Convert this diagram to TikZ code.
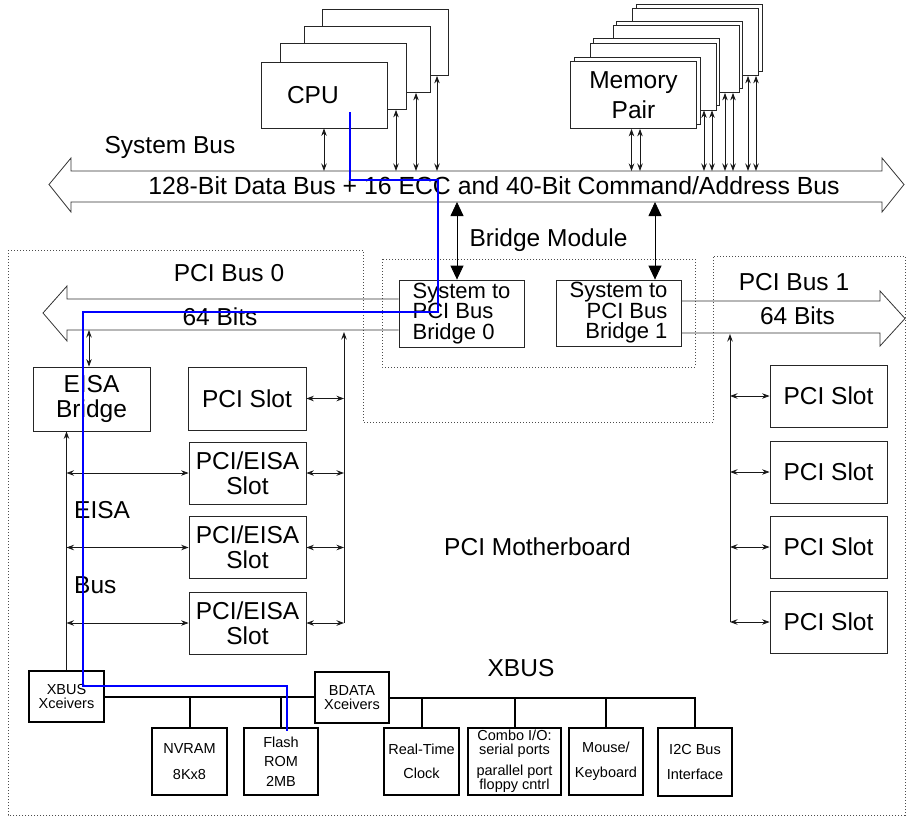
\documentclass[tikz,border=0pt]{standalone}
\usepackage{fontspec}
\setmainfont{Liberation Sans}
\usetikzlibrary{arrows.meta,calc}

\newcommand{\lblfont}{\fontsize{24.5}{25}\selectfont}
\newcommand{\brfont}{\fontsize{22}{20.5}\selectfont}
\newcommand{\xbfont}{\fontsize{14.5}{14}\selectfont}

\tikzset{
  box/.style={draw=black!85, fill=white, line width=0.8pt, inner sep=0pt, align=center, font=\lblfont},
  slotbox/.style={box, minimum width=117pt, minimum height=62pt},
  cpubox/.style={box, minimum width=126pt, minimum height=66pt},
  membox/.style={box, minimum width=126pt, minimum height=67pt},
  xbox/.style={draw, fill=white, line width=2pt, inner sep=0pt, align=center, minimum width=75pt, minimum height=67pt},
  dbl/.style={{Stealth[length=7.5pt,width=5.5pt,inset=2.5pt]}-{Stealth[length=7.5pt,width=5.5pt,inset=2.5pt]}, line width=0.8pt, black!90},
  uparr/.style={-{Stealth[length=7.5pt,width=5.5pt,inset=2.5pt]}, line width=0.8pt, black!90},
  bigarr/.style={{Triangle[length=14pt,width=13pt]}-{Triangle[length=14pt,width=13pt]}, line width=0.8pt},
  bus/.style={draw=black!80, line width=0.8pt},
  xbline/.style={line width=2pt},
  region/.style={draw=black!70, line width=0.7pt, dash pattern=on 1pt off 2pt},
  hilite/.style={draw=blue, line width=2pt},
  lbl/.style={font=\lblfont, inner sep=0pt}
}

\begin{document}
\begin{tikzpicture}[x=1pt,y=-1pt]
\useasboundingbox (0,0) rectangle (907,822);
% dotted outlines
\draw[region] (8,250) -- (363,250) -- (363,422) -- (713,422) -- (713,256) -- (905,256) -- (905,815) -- (8,815) -- cycle;
\draw[region] (382,259) rectangle (695,367);

% system bus
\coordinate (sbt) at (0,171);
\coordinate (sbb) at (0,202);
\draw[bus] (49,184.5) -- (71,158) -- (71,171) -- (882,171) -- (882,158) -- (904,184.5) -- (882,212) -- (882,202) -- (71,202) -- (71,212) -- cycle;
\node[font=\fontsize{24.8}{26}\selectfont, inner sep=0pt] (sbtxt) at (494,186) {128-Bit Data Bus + 16 ECC and 40-Bit Command/Address Bus};
\node[lbl] (sblbl) at (170,147) {System Bus};

% CPUs
\node[cpubox] (cpu4) at (385.5,42.5) {};
\node[cpubox] (cpu3) at (367,59.5) {};
\node[cpubox] (cpu2) at (343,76.5) {};
\node[cpubox, inner xsep=0pt, text width=74pt, align=left] (cpu) at (324,95) {CPU};
\draw[dbl] (cpu.south) -- (cpu.south |- sbt);
\foreach \b/\x in {cpu2/396, cpu3/416, cpu4/437}
  \draw[dbl] (\x,0 |- \b.south) -- (\x,0 |- sbt);

% memory pairs
\foreach \i/\x/\y in {4/695.5/42, 3/676/59, 2/653/76.5, 1/633.5/95} {
  \node[membox] (mb\i) at (\x+3.5,\y-4.5) {};
  \node[membox] (m\i) at (\x,\y) {};
}
\node[font=\fontsize{24.5}{30}\selectfont, align=center] (mtxt) at (m1) {Memory\\Pair};
\foreach \b/\x in {m1/631.5, m1/640, m2/704, m2/712, m3/725, m3/733, m4/748, m4/756}
  \draw[dbl] (\x,0 |- \b.south) -- (\x,0 |- sbt);

% bridge module
\node[lbl] (bmlbl) at (548.5,240) {Bridge Module};
\node[box, font=\brfont, minimum width=125pt, minimum height=67pt, align=left] (br0) at (461.5,313.5) {System to\\PCI Bus\\Bridge 0};
\node[box, font=\brfont, minimum width=125pt, minimum height=66pt, align=right] (br1) at (618.5,313) {System to\\PCI Bus\\Bridge 1};
\draw[bigarr] (457,0 |- sbb) -- (457,0 |- br0.north);
\draw[bigarr] (655,0 |- sbb) -- (655,0 |- br1.north);

% PCI bus 0
\coordinate (p0b) at (0,330);
\draw[bus] (br0.west |- 0,299) -- (67,299) -- (67,286) -- (43,313) -- (67,341) -- (67,330) -- (br0.west |- p0b);
\node[lbl] (p0lbl) at (229,273) {PCI Bus 0};
\node[lbl] (p0bits) at (220,317) {64 Bits};

% PCI bus 1
\coordinate (p1b) at (0,333);
\draw[bus] (br1.east |- 0,301) -- (880,301) -- (880,291) -- (905,318.5) -- (880,346) -- (880,333) -- (br1.east |- p1b);
\node[lbl] (p1lbl) at (794,282) {PCI Bus 1};
\node[lbl] (p1bits) at (797.5,316) {64 Bits};

% left side
\node[box, minimum width=117pt, minimum height=64pt] (eisab) at (91.5,399) {EISA\\Bridge};
\draw[dbl] (89,0 |- eisab.north) -- (89,0 |- p0b);
\node[slotbox, minimum width=118pt, minimum height=63pt] (ps0) at (247,398.5) {PCI Slot};
\node[slotbox] (pes1) at (247.5,473) {PCI/EISA\\Slot};
\node[slotbox] (pes2) at (247.5,547.5) {PCI/EISA\\Slot};
\node[slotbox] (pes3) at (247.5,623) {PCI/EISA\\Slot};
\coordinate (ltr) at (344,332);
\draw[uparr] (ltr |- pes3.east) -- (ltr);
\foreach \s in {ps0,pes1,pes2,pes3}
  \draw[dbl] (\s.east) -- (ltr |- \s.east);
\node[lbl, anchor=west] (eisalbl) at (74,510) {EISA};
\node[lbl, anchor=west] (buslbl) at (74,585) {Bus};
\node[lbl] (mblbl) at (537.5,547) {PCI Motherboard};

% right side
\foreach \i/\y in {1/396,2/472,3/547,4/622}
  \node[slotbox] (rs\i) at (828.5,\y) {PCI Slot};
\coordinate (rtr) at (730,334);
\draw[uparr] (rtr |- rs4.west) -- (rtr);
\foreach \i in {1,...,4}
  \draw[dbl] (rtr |- rs\i.west) -- (rs\i.west);

% XBUS
\node[xbox, minimum height=51pt, font=\xbfont] (xbx) at (66.5,696.5) {XBUS\\Xceivers};
\node[xbox, minimum width=74pt, minimum height=51pt, font=\xbfont] (bd) at (352,697.5) {BDATA\\Xceivers};
\draw[uparr] (xbx.north) -- (xbx.north |- eisab.south);
\foreach \s in {pes1,pes2,pes3}
  \draw[dbl] (xbx.north |- \s.west) -- (\s.west);
\draw[xbline] (xbx.east) -- (xbx.east -| bd.west);
\draw[xbline] (bd.east) -- ++(306,0) coordinate (xbend);
\node[lbl] (xblbl) at (521,668) {XBUS};

\node[xbox, font=\fontsize{14.5}{26}\selectfont] (nv) at (189.5,761.5) {NVRAM\\8Kx8};
\node[xbox, minimum width=74pt, font=\fontsize{14.5}{19.5}\selectfont] (fl) at (281,761.5) {Flash\\ROM\\2MB};
\node[xbox, font=\fontsize{14.5}{24}\selectfont] (rt) at (421.5,761.5) {Real-Time\\Clock};
\node[xbox, minimum width=93pt, font=\fontsize{14.5}{13.5}\selectfont] (co) at (514.5,761.5) {Combo I/O:\\serial ports\\[6pt]parallel port\\floppy cntrl};
\node[xbox, minimum width=74pt, font=\fontsize{14.5}{25}\selectfont] (ms) at (606,761.5) {Mouse/\\Keyboard};
\node[xbox, minimum width=74pt, minimum height=68pt, font=\fontsize{14.5}{25}\selectfont] (i2c) at (695,762) {I2C Bus\\Interface};
\foreach \s in {nv,fl}
  \draw[xbline] (\s.north) -- (\s.north |- xbx.east);
\foreach \s in {rt,co,ms,i2c}
  \draw[xbline] (\s.north) -- (\s.north |- bd.east);

% highlighted path
\draw[hilite] ([xshift=26pt,yshift=-17pt]cpu.center) |- (438,180) |- (83,312) |- (287,686) -- ([xshift=6pt,yshift=-4pt]fl.north);
\end{tikzpicture}
\end{document}
